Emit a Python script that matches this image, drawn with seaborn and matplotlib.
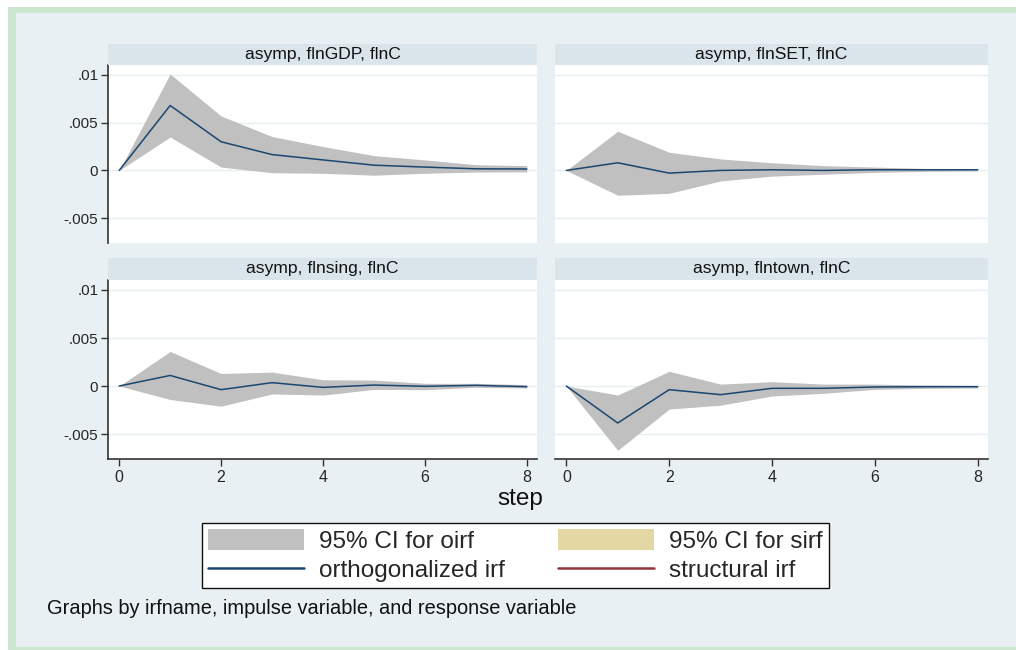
import numpy as np
import pandas as pd
import matplotlib
matplotlib.use("Agg")
import matplotlib.pyplot as plt
import seaborn as sns
from matplotlib.patches import Rectangle, Patch
from matplotlib.lines import Line2D

# ---------------- data ----------------
steps = [0, 1, 2, 3, 4, 5, 6, 7, 8]
panel_titles = ["asymp, flnGDP, flnC", "asymp, flnSET, flnC",
                "asymp, flnsing, flnC", "asymp, flntown, flnC"]

irf_gdp = [0, 0.0068, 0.0030, 0.00166, 0.0011, 0.00055, 0.00035, 0.00017, 0.00015]
up_gdp = [0, 0.0101, 0.0057, 0.00355, 0.0025, 0.00155, 0.0011, 0.0006, 0.0005]
lo_gdp = [0, 0.0035, 0.00035, -0.00024, -0.0003, -0.0005, -0.0003, -0.00017, -0.00015]

irf_set = [0, 0.0008, -0.00028, 0.0, 0.00007, 0.0, 0.00007, 0.00007, 0.00007]
up_set = [0, 0.0041, 0.0019, 0.0012, 0.0008, 0.0005, 0.00035, 0.0002, 0.00015]
lo_set = [0, -0.0026, -0.0024, -0.0011, -0.0006, -0.0004, -0.0002, -0.0001, -0.00005]

irf_sing = [0, 0.0011, -0.00038, 0.00035, -0.00014, 0.0001, -0.00003, 0.00007, -0.00007]
up_sing = [0, 0.0036, 0.0013, 0.00145, 0.00065, 0.00062, 0.00028, 0.00028, 0.00014]
lo_sing = [0, -0.0014, -0.0021, -0.00083, -0.00094, -0.00035, -0.00038, -0.00014, -0.0002]

irf_town = [0, -0.00385, -0.00038, -0.0009, -0.00024, -0.00024, -0.0001, -0.00007, -0.00007]
up_town = [0, -0.00094, 0.00153, 0.0002, 0.00045, 0.0002, 0.0002, 0.0001, 0.00007]
lo_town = [0, -0.0067, -0.0024, -0.0020, -0.00104, -0.00076, -0.00035, -0.00024, -0.0002]

y_ticks = [-0.005, 0, 0.005, 0.01]
y_ticklabels = ["-.005", "0", ".005", ".01"]
x_ticks = [0, 2, 4, 6, 8]
legend_labels = ["95% CI for oirf", "95% CI for sirf", "orthogonalized irf", "structural irf"]

# ---------------- style ----------------
sns.set_theme(style="white")
plt.rcParams["font.family"] = ["Liberation Sans", "DejaVu Sans"]

W, H = 1016, 650
BG = "#e9f0f3"
GREEN = "#cde6d0"
STRIP = "#d9e5eb"
GRID = "#e6eff1"
CI_GREY = "#c0c0c0"
TAN = "#e3d7a3"
NAVY = "#1a476f"
MAROON = "#90353b"
AXC = "#333333"

fig = plt.figure(figsize=(W / 100, H / 100), dpi=100)
fig.patch.set_facecolor("white")


def fx(x):
    return x / W


def fy(y):
    return 1 - y / H


# frame
fig.add_artist(Rectangle((fx(8), fy(650)), fx(1016 - 8), fy(7) - fy(650),
                         transform=fig.transFigure, facecolor=GREEN, edgecolor="none", zorder=0))
fig.add_artist(Rectangle((fx(16), fy(647)), fx(1016 - 16), fy(13) - fy(647),
                         transform=fig.transFigure, facecolor=BG, edgecolor="none", zorder=0))

panels = [
    (irf_gdp, up_gdp, lo_gdp, 108, 537, 44, 65, 243, True, False),
    (irf_set, up_set, lo_set, 555, 988, 44, 65, 243, False, False),
    (irf_sing, up_sing, lo_sing, 108, 537, 258, 280, 459, True, True),
    (irf_town, up_town, lo_town, 555, 988, 258, 280, 459, False, True),
]

ylim = (-0.0076, 0.01104)
xlim = (-0.22, 8.2)

for (irf, up, lo, x0, x1, hy0, y0, y1, show_y, show_x), title in zip(panels, panel_titles):
    ax = fig.add_axes([fx(x0), fy(y1), fx(x1 - x0), fy(y0) - fy(y1)])
    ax.set_facecolor("white")
    ax.set_xlim(*xlim)
    ax.set_ylim(*ylim)
    for yt in y_ticks:
        ax.axhline(yt, color=GRID, lw=1.0, zorder=0)
    ax.fill_between(steps, lo, up, color=CI_GREY, lw=0, zorder=1)
    sns.lineplot(x=steps, y=irf, ax=ax, color=NAVY, lw=1.1, zorder=2)

    ax.set_yticks(y_ticks)
    ax.set_xticks(x_ticks)
    for s in ax.spines.values():
        s.set_visible(False)
    if show_y:
        ax.spines["left"].set_visible(True)
        ax.spines["left"].set_color(AXC)
        ax.spines["left"].set_linewidth(1.2)
        ax.set_yticklabels(y_ticklabels, fontsize=11)
        ax.tick_params(axis="y", left=True, length=5, width=1, color=AXC, pad=2)
    else:
        ax.set_yticklabels([])
        ax.tick_params(axis="y", left=False, length=0)
    if show_x:
        ax.spines["bottom"].set_visible(True)
        ax.spines["bottom"].set_color(AXC)
        ax.spines["bottom"].set_linewidth(1.2)
        ax.set_xticklabels([str(t) for t in x_ticks], fontsize=11.5)
        ax.tick_params(axis="x", bottom=True, length=5, width=1, color=AXC, pad=3)
    else:
        ax.set_xticklabels([])
        ax.tick_params(axis="x", bottom=False, length=0)
    ax.set_xlabel("")
    ax.set_ylabel("")

    # strip header
    fig.add_artist(Rectangle((fx(x0), fy(y0)), fx(x1 - x0), fy(hy0) - fy(y0),
                             transform=fig.transFigure, facecolor=STRIP, edgecolor="none", zorder=1))
    fig.text(fx((x0 + x1) / 2), fy((hy0 + y0) / 2), title, ha="center", va="center",
             fontsize=12.6, color="#111111")

fig.text(fx(520), fy(499), "step", ha="center", va="center", fontsize=17.5, color="#111111")

handles = [Patch(facecolor=CI_GREY, edgecolor="none"),
           Line2D([], [], color=NAVY, lw=1.8),
           Patch(facecolor=TAN, edgecolor="none"),
           Line2D([], [], color=MAROON, lw=1.8)]
labels = [legend_labels[0], legend_labels[2], legend_labels[1], legend_labels[3]]
leg = fig.legend(handles, labels, ncol=2, loc="center",
                 bbox_to_anchor=(fx(515.5), fy(555.5)), fontsize=17.5,
                 frameon=True, fancybox=False, edgecolor="#111111", framealpha=1.0,
                 handlelength=3.95, handleheight=0.98, handletextpad=0.62,
                 columnspacing=2.2, labelspacing=0.22, borderpad=0.25,
                 borderaxespad=0)
leg.get_frame().set_linewidth(1.0)
leg.get_frame().set_facecolor("white")

fig.text(fx(47), fy(608), "Graphs by irfname, impulse variable, and response variable",
         ha="left", va="center", fontsize=14.4, color="#111111")

fig.savefig("out.png", dpi=100)
